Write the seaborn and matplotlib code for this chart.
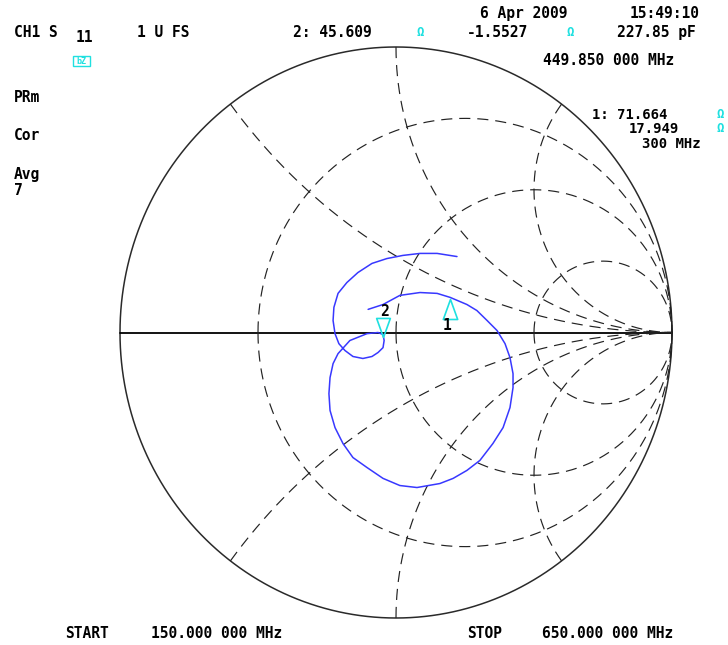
import numpy as np
import matplotlib
matplotlib.use('Agg')
import matplotlib.pyplot as plt
import seaborn as sns
from matplotlib.path import Path
from matplotlib.patches import Rectangle

gamma_re = [-0.101, -0.047, 0.014, 0.087, 0.149, 0.196, 0.257, 0.293, 0.330, 0.366,
            0.395, 0.413, 0.424, 0.424, 0.413, 0.388, 0.351, 0.304, 0.257, 0.207,
            0.159, 0.076, 0.014, -0.047, -0.105, -0.156, -0.192, -0.221, -0.239, -0.243,
            -0.239, -0.228, -0.210, -0.167, -0.105, -0.065, -0.047, -0.043, -0.047, -0.065,
            -0.087, -0.120, -0.156, -0.185, -0.207, -0.221, -0.228, -0.225, -0.210, -0.178,
            -0.138, -0.087, -0.033, 0.025, 0.087, 0.149, 0.221]
gamma_im = [0.081, 0.098, 0.130, 0.140, 0.137, 0.123, 0.098, 0.077, 0.042, 0.007,
            -0.039, -0.088, -0.144, -0.193, -0.263, -0.333, -0.389, -0.448, -0.483, -0.511,
            -0.529, -0.543, -0.536, -0.511, -0.473, -0.438, -0.389, -0.333, -0.273, -0.214,
            -0.158, -0.109, -0.074, -0.028, -0.004, 0.000, -0.007, -0.028, -0.053, -0.070,
            -0.084, -0.091, -0.084, -0.063, -0.039, -0.004, 0.042, 0.088, 0.137, 0.175,
            0.210, 0.242, 0.259, 0.270, 0.277, 0.277, 0.266]

# marker readouts (ohms)
z0 = 50.0
marker_names = ["1", "2"]
marker_r = [71.664, 45.609]
marker_x = [17.949, -1.5527]

# graticule
r_circles = [1 / 3, 1, 3]
x_arcs = [0.5, 1, 2]

sns.set_theme(style="white")
plt.rcParams['font.family'] = ['DejaVu Sans Mono', 'DejaVu Sans']
plt.rcParams['lines.scale_dashes'] = False

W, H = 728, 645
fig = plt.figure(figsize=(W / 100, H / 100), dpi=100)
fig.patch.set_facecolor('white')
ax = fig.add_axes([120 / W, 27 / H, 552 / W, 571 / H])
ax.set_xlim(-1, 1)
ax.set_ylim(-1, 1)
ax.axis('off')

grid_kw = dict(color='#222222', lw=0.85, dashes=(8, 5), clip_on=False)

t = np.linspace(0, 2 * np.pi, 721)
ax.plot(np.cos(t), np.sin(t), color='#2a2a2a', lw=1.1, clip_on=False)
ax.plot([-1, 1], [0, 0], color='black', lw=1.3, clip_on=False)

for r in r_circles:
    c, rad = r / (1 + r), 1 / (1 + r)
    a = np.linspace(np.pi, 0, 300)
    for s in (1, -1):
        ax.plot(c + rad * np.cos(a), s * rad * np.sin(a), **grid_kw)

for x in x_arcs:
    g = complex(x * x - 1, 2 * x) / (x * x + 1)
    a0 = np.arctan2(g.imag - 1 / x, g.real - 1)
    if a0 < 0:
        a0 += 2 * np.pi
    a = np.linspace(a0, 1.5 * np.pi, 300)
    re = 1 + np.cos(a) / x
    im = 1 / x + np.sin(a) / x
    for s in (1, -1):
        ax.plot(re, s * im, **grid_kw)

sns.lineplot(x=gamma_re, y=gamma_im, sort=False, estimator=None,
             color='#3838ff', lw=1.1, ax=ax)

# markers: triangle with its tip on the trace
tri_up = Path([(0, 0), (-0.36, -1), (0.36, -1), (0, 0)],
              [Path.MOVETO, Path.LINETO, Path.LINETO, Path.CLOSEPOLY])
tri_dn = Path([(0, 0), (-0.36, 1), (0.36, 1), (0, 0)],
              [Path.MOVETO, Path.LINETO, Path.LINETO, Path.CLOSEPOLY])
cyan = '#1fe0e0'
for name, mr, mx in zip(marker_names, marker_r, marker_x):
    z = complex(mr, mx) / z0
    g = (z - 1) / (z + 1)
    if name == "1":
        ax.plot(g.real, g.imag, marker=tri_up, ms=28.8, mfc='none', mec=cyan, mew=1.2)
        ax.annotate(name, (g.real, g.imag), xytext=(-3, -27), textcoords='offset pixels',
                    ha='center', va='center', fontsize=10.5, fontweight='bold', color='black')
    else:
        ax.plot(g.real, g.imag, marker=tri_dn, ms=27.4, mfc='none', mec=cyan, mew=1.2)
        ax.annotate(name, (g.real, g.imag), xytext=(1, 26), textcoords='offset pixels',
                    ha='center', va='center', fontsize=10.5, fontweight='bold', color='black')


def label(x, y, s, **kw):
    kw.setdefault('fontsize', 10.5)
    kw.setdefault('fontweight', 'bold')
    kw.setdefault('color', 'black')
    fig.text(x / W, 1 - y / H, s, **kw)


def ohm(x, y):
    fig.text(x / W, 1 - y / H, "Ω", fontsize=9, fontweight='bold', color=cyan,
             ha='center', va='center')


label(480, 18, "6 Apr 2009")
label(630, 18, "15:49:10")
label(14, 37, "CH1 S")
label(76, 42, "11")
label(137, 37, "1 U FS")
label(293, 37, "2: 45.609")
ohm(420, 33)
label(467, 37, "-1.5527")
ohm(570, 33)
label(617, 37, "227.85 pF")
label(543, 65, "449.850 000 MHz")
label(592, 119, "1: 71.664", fontsize=10)
ohm(720, 115)
label(629, 133, "17.949", fontsize=10)
ohm(720, 128)
label(642, 148, "300 MHz", fontsize=10)
label(14, 102, "PRm")
label(14, 140, "Cor")
label(14, 179, "Avg")
label(14, 195, "7")
label(65, 638, "START")
label(151, 638, "150.000 000 MHz")
label(467, 638, "STOP")
label(542, 638, "650.000 000 MHz")

# small status icon under "11"
fig.patches.append(Rectangle((73 / W, 1 - 66 / H), 17 / W, 10 / H, transform=fig.transFigure,
                             fill=False, edgecolor=cyan, lw=1.0))
fig.text(81.5 / W, 1 - 61 / H, "bZ", fontsize=6, color=cyan, ha='center', va='center',
         fontweight='bold')

fig.savefig("out.png", dpi=100)
